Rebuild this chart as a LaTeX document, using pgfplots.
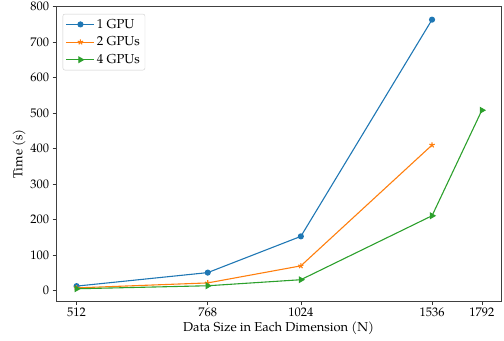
\documentclass[border=0pt]{standalone}
\usepackage{pgfplots}
\pgfplotsset{compat=1.18}
\usepackage{fontspec}
\setmainfont{TeX Gyre Pagella}
\definecolor{c1}{HTML}{1F77B4}
\definecolor{c2}{HTML}{FF7F0E}
\definecolor{c3}{HTML}{2CA02C}
\begin{document}
\begin{tikzpicture}
\begin{axis}[
  name=ax,
  scale only axis,
  width=445bp, height=295bp,
  xmode=log, log basis x=2,
  xmin=480.5, xmax=1901,
  ymin=-30.3, ymax=800,
  xtick={512,768,1024,1536,1792},
  xticklabels={512,768,1024,1536,1792},
  minor xtick={},
  ytick={0,100,200,300,400,500,600,700,800},
  tick align=outside, xtick pos=left, ytick pos=left,
  major tick length=3.5bp,
  tick style={black!80, line width=0.6pt},
  axis line style={line width=0.8pt, black!75},
  xlabel={Data Size in Each Dimension (N)},
  ylabel={Time (s)},
  /pgf/number format/assume math mode=true,
  ticklabel style={font=\fontsize{12.5}{14}\selectfont},
  label style={font=\fontsize{13}{15}\selectfont},
  xticklabel style={yshift=1bp},
  xlabel style={yshift=1bp},
  ylabel style={yshift=-2bp},
  legend cell align=left,
  legend style={font=\fontsize{13}{15}\selectfont, draw=black!20, rounded corners=2pt,
    at={(0.015,0.975)}, anchor=north west, row sep=3bp, inner sep=3bp},
  legend image code/.code={\draw[#1] (0bp,0bp) -- (28bp,0bp); \draw[#1,only marks] plot coordinates {(14bp,0bp)};},
  every axis plot/.append style={line width=1.1pt},
]
\addplot[c1, mark=*, mark size=2.5pt] coordinates {(512,13) (768,51) (1024,153) (1536,763)};
\addplot[c2, mark=star, mark size=2.8pt, mark options={line width=1.1pt}] coordinates {(512,8) (768,22) (1024,70) (1536,410)};
\addplot[c3, mark=triangle*, mark size=3pt, mark options={rotate=-90}] coordinates {(512,5.5) (768,14) (1024,31) (1536,211) (1792,508)};
\legend{1 GPU, 2 GPUs, 4 GPUs}
\end{axis}
\pgfresetboundingbox
\path ([xshift=-56bp,yshift=-39.5bp]ax.south west) rectangle ([xshift=3bp,yshift=6.5bp]ax.north east);
\end{tikzpicture}
\end{document}
